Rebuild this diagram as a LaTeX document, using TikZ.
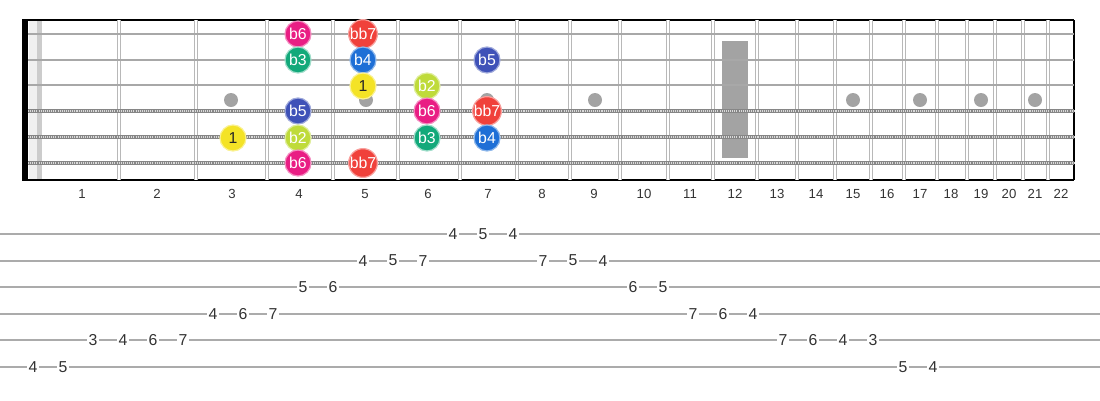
\documentclass[tikz,border=0pt]{standalone}
\usepackage{fontspec}
\setmainfont{Liberation Sans}

\definecolor{fretgray}{HTML}{B8B8B8}
\definecolor{stringgray}{HTML}{A8A8A8}
\definecolor{dotgray}{HTML}{A3A3A3}
\definecolor{tabgray}{HTML}{ABABAB}
\definecolor{noteOne}{HTML}{F4E326}
\definecolor{noteTwo}{HTML}{BFDB3A}
\definecolor{noteThree}{HTML}{12A97A}
\definecolor{noteFour}{HTML}{1E6FD6}
\definecolor{noteFive}{HTML}{3F52B8}
\definecolor{noteSix}{HTML}{E91E84}
\definecolor{noteSeven}{HTML}{F0413B}

\begin{document}
\begin{tikzpicture}[x=0.02cm, y=-0.02cm,
    note/.style={circle, minimum size=0.52cm, inner sep=0pt, line width=0.7pt,
        text=white, font=\fontsize{9}{9}\selectfont},
    fretnum/.style={text=black!80, font=\fontsize{7.5}{8}\selectfont},
    tabnum/.style={fill=white, inner sep=1pt, text=black!80,
        font=\fontsize{9}{10}\selectfont}]
    \useasboundingbox (0,0) rectangle (1100,400);

    % Nut and board edges
    \fill[black!6] (29,20) rectangle (42,180);
    \fill[black!20] (37,20) rectangle (42,180);
    \draw[black, line width=1.1pt] (22,20) -- (1074,20);
    \draw[black, line width=1.1pt] (22,180) -- (1074,180);
    \draw[black, line width=3pt] (25,20) -- (25,180);
    \draw[black, line width=1.1pt] (1074,20) -- (1074,180);

    % Frets
    \foreach \x in {119,196,267,333,398,460,517,570,620,668,713,757,797,835,871,904,937,967,995,1023,1048}
        \draw[fretgray, line width=0.7pt, double=white, double distance=1pt] (\x,20) -- (\x,180);

    % Position markers
    \foreach \x in {231,366,487,595,853,920,981,1035}
        \fill[dotgray] (\x,100) circle (7);
    \fill[dotgray] (722,41) rectangle (748,158);

    % Plain strings
    \foreach \y in {34,60,85}
        \draw[stringgray, line width=1.5pt] (28,\y) -- (1074,\y);

    % Wound strings
    \foreach \y in {111,137,163} {
        \draw[stringgray!80!black, line width=2.6pt] (28,\y) -- (1074,\y);
        \draw[white!85!black, line width=1pt, dash pattern=on 0.6pt off 0.6pt] (28,\y) -- (1074,\y);
    }

    % Fret numbers
    \foreach \x/\n in {82/1,157/2,232/3,299/4,365/5,428/6,488/7,542/8,594/9,644/10,690/11,735/12,777/13,816/14,853/15,887/16,920/17,951/18,981/19,1009/20,1035/21,1061/22}
        \node[fretnum] (fret\n) at (\x,194) {\n};

    % Scale notes, string 1
    \node[note, fill=noteSix, draw=noteSix!50!white] (s1f4) at (298,34) {b6};
    \node[note, fill=noteSeven, draw=noteSeven!50!white] (s1f5) at (363,34) {bb7};
    % string 2
    \node[note, fill=noteThree, draw=noteThree!40!white] (s2f4) at (298,60) {b3};
    \node[note, fill=noteFour, draw=noteFour!50!white] (s2f5) at (363,60) {b4};
    \node[note, fill=noteFive, draw=noteFive!50!white] (s2f7) at (487,60) {b5};
    % string 3
    \node[note, fill=noteOne, draw=noteOne!50!white, text=black!85] (s3f5) at (363,86) {1};
    \node[note, fill=noteTwo, draw=noteTwo!50!white] (s3f6) at (427,86) {b2};
    % string 4
    \node[note, fill=noteFive, draw=noteFive!50!white] (s4f4) at (298,111) {b5};
    \node[note, fill=noteSix, draw=noteSix!50!white] (s4f6) at (427,111) {b6};
    \node[note, fill=noteSeven, draw=noteSeven!50!white] (s4f7) at (487,111) {bb7};
    % string 5
    \node[note, fill=noteOne, draw=noteOne!50!white, text=black!85] (s5f3) at (233,138) {1};
    \node[note, fill=noteTwo, draw=noteTwo!50!white] (s5f4) at (298,138) {b2};
    \node[note, fill=noteThree, draw=noteThree!40!white] (s5f6) at (427,138) {b3};
    \node[note, fill=noteFour, draw=noteFour!50!white] (s5f7) at (487,138) {b4};
    % string 6
    \node[note, fill=noteSix, draw=noteSix!50!white] (s6f4) at (298,163) {b6};
    \node[note, fill=noteSeven, draw=noteSeven!50!white] (s6f5) at (363,163) {bb7};

    % Tab staff
    \foreach \s in {1,...,6}
        \draw[tabgray, line width=1.2pt] (0,{234+26.6*(\s-1)}) -- (1100,{234+26.6*(\s-1)});

    % Tab numbers, up the scale and back down
    \foreach \i/\s/\f in {0/6/4,1/6/5,2/5/3,3/5/4,4/5/6,5/5/7,6/4/4,7/4/6,8/4/7,9/3/5,10/3/6,11/2/4,12/2/5,13/2/7,14/1/4,15/1/5,16/1/4,17/2/7,18/2/5,19/2/4,20/3/6,21/3/5,22/4/7,23/4/6,24/4/4,25/5/7,26/5/6,27/5/4,28/5/3,29/6/5,30/6/4}
        \node[tabnum] (tab\i) at ({33+30*\i},{234+26.6*(\s-1)}) {\f};
\end{tikzpicture}
\end{document}
